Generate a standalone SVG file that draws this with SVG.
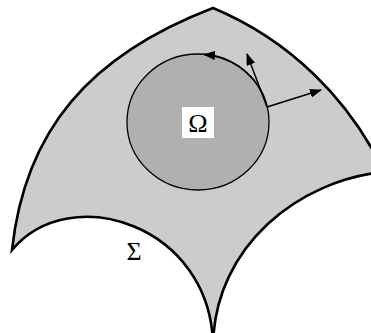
<svg xmlns="http://www.w3.org/2000/svg" width="371" height="333" viewBox="0 0 371 333">
<style>
.outline{fill:#cccccc;stroke:#000;stroke-width:2.6;stroke-linejoin:miter}
.disk{fill:#b0b0b0;stroke:#000;stroke-width:1.3}
.arr{fill:none;stroke:#000;stroke-width:1.5}
.lbl{font-family:"Liberation Serif","Times New Roman",serif;font-size:26px;fill:#000;text-anchor:middle}
</style>
<defs>
<marker id="ah" markerUnits="userSpaceOnUse" markerWidth="12" markerHeight="10" refX="11" refY="4.5" orient="auto">
<path d="M0,0 L12,4.5 L0,9 z" fill="#000"/>
</marker>
</defs>
<rect width="371" height="333" fill="#fff"/>
<g id="sigma">
<path class="outline" d="M12,250 C25,130 90,55 213,8 C290,40 350,100 384,172 C300,180 215,245 213,345 C211,225 70,180 12,250 Z"/>
<text class="lbl" x="134" y="260">Σ</text>
</g>
<g id="omega">
<ellipse class="disk" cx="198" cy="122" rx="71" ry="68"/>
<rect x="182" y="107" width="32" height="31" fill="#fff"/>
<text class="lbl" x="198" y="132">Ω</text>
</g>
<g id="connectors">
<path class="arr" d="M263,95 A71,68 0 0 0 204,54.5" marker-end="url(#ah)"/>
<line class="arr" x1="267" y1="107" x2="247" y2="54" marker-end="url(#ah)"/>
<line class="arr" x1="267" y1="107" x2="321" y2="90" marker-end="url(#ah)"/>
</g>
</svg>
